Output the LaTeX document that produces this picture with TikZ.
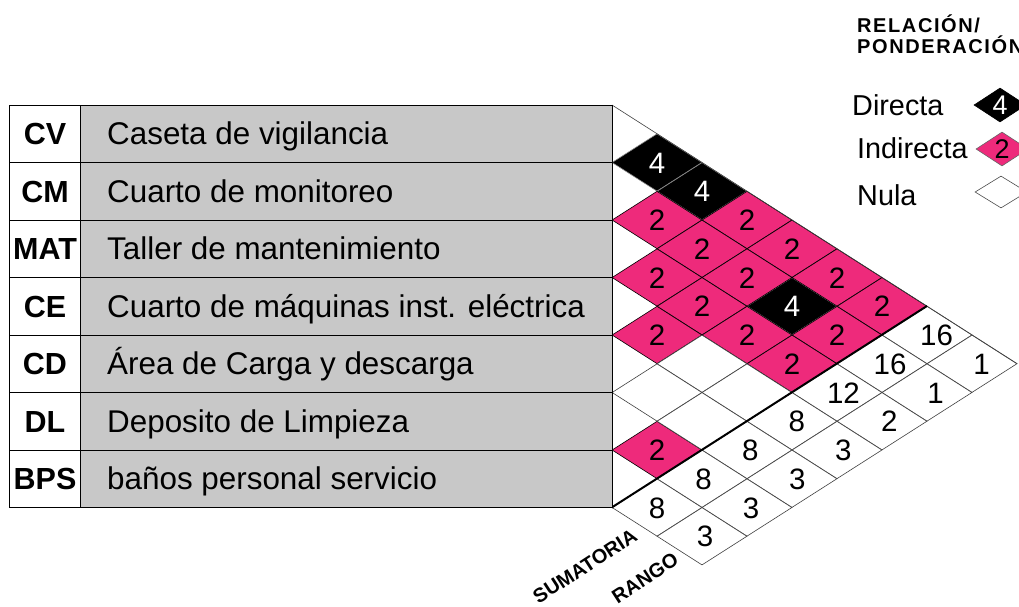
\documentclass[tikz,border=0pt]{standalone}
\usepackage{fontspec}
\setmainfont{Liberation Sans}
\usetikzlibrary{shapes.geometric}
\definecolor{tgray}{RGB}{200,200,200}
\definecolor{hpink}{RGB}{238,42,123}
\begin{document}
\begin{tikzpicture}[x=1pt,y=-1pt,
  cell/.style={diamond, minimum width=90pt, minimum height=57.5pt, inner sep=0pt,
    draw=black!75, line width=0.6pt, font=\fontsize{29.5}{29.5}\selectfont,
    text height=21pt, text depth=0pt},
  nula/.style={cell, fill=white},
  ind/.style={cell, fill=hpink, draw=black},
  dir/.style={cell, fill=black, text=white, draw=black!45},
  codebox/.style={rectangle, draw=black, line width=0.8pt, fill=white,
    minimum width=71pt, minimum height=57.5pt, inner sep=0pt},
  descbox/.style={rectangle, draw=black, line width=0.8pt, fill=tgray,
    minimum width=532pt, minimum height=57.5pt, inner sep=0pt},
  codetext/.style={font=\fontsize{30.5}{30.5}\selectfont\bfseries, inner sep=0pt, anchor=base},
  desctext/.style={font=\fontsize{31.4}{31.4}\selectfont, inner sep=0pt, anchor=base west},
  legtext/.style={font=\fontsize{28.8}{28.8}\selectfont, inner sep=0pt, anchor=base west},
  legtitle/.style={font=\fontsize{20}{20}\selectfont\bfseries\addfontfeature{LetterSpace=8},
    inner sep=0pt, anchor=base west},
  legcell/.style={diamond, minimum width=52pt, minimum height=32pt, inner sep=0pt,
    font=\fontsize{27}{27}\selectfont, text height=19pt, text depth=0pt, line width=0.6pt},
  axislabel/.style={font=\fontsize{20}{20}\selectfont\bfseries, inner sep=0pt, rotate=33}
]
\clip (0,0) rectangle (1019,606);
\fill[white] (0,0) rectangle (1019,606);

% relationship matrix cells
\foreach \i/\j/\v in {1/2/4, 1/3/4, 2/6/4}
  \node[dir] (m\i\j) at ({612+45*(\j-\i)}, {105+28.75*(\i+\j-1)}) {\v};
\foreach \i/\j in {1/4, 1/5, 1/6, 1/7, 2/3, 2/4, 2/5, 2/7, 3/4, 3/5, 3/6, 3/7, 4/5, 6/7}
  \node[ind] (m\i\j) at ({612+45*(\j-\i)}, {105+28.75*(\i+\j-1)}) {2};
\foreach \i/\j in {4/6, 4/7, 5/6, 5/7}
  \node[nula] (m\i\j) at ({612+45*(\j-\i)}, {105+28.75*(\i+\j-1)}) {};
% sumatoria column
\foreach \i/\v in {1/16, 2/16, 3/12, 4/8, 5/8, 6/8, 7/8}
  \node[nula] (s\i) at ({612+45*(8-\i)}, {105+28.75*(\i+7)})
    {\makebox[0pt]{\hspace*{\fpeval{(7-\i)*3.2}pt}\v}};
% rango column
\foreach \i/\v in {1/1, 2/1, 3/2, 4/3, 5/3, 6/3, 7/3}
  \node[nula] (r\i) at ({612+45*(9-\i)}, {105+28.75*(\i+8)})
    {\makebox[0pt]{\hspace*{\fpeval{(7-\i)*2.2+6}pt}\v}};

% borders of the triangle
\coordinate (tl) at (612,105);
\draw[black!75, line width=0.6pt] (tl) -- (r1.east);
\draw[black, line width=2pt] (s7.west) -- (s1.north);

% table
\foreach \k/\c/\d in {1/CV/Caseta de vigilancia, 2/CM/Cuarto de monitoreo,
    3/MAT/Taller de mantenimiento, 4/CE/Cuarto de máquinas inst. eléctrica,
    5/CD/Área de Carga y descarga, 6/DL/Deposito de Limpieza,
    7/BPS/baños personal servicio}{
  \node[codebox] (k\k) at (44.5, {105+57.5*(\k-0.5)}) {};
  \node[descbox] (d\k) at (346, {105+57.5*(\k-0.5)}) {};
  \node[codetext] (kt\k) at (45, {105+57.5*(\k-0.5)+11}) {\c};
  \node[desctext] (dt\k) at (107, {105+57.5*(\k-0.5)+11}) {\d};
}

% axis labels
\node[axislabel] (lsum) at (585,566) {SUMATORIA};
\node[axislabel] (lran) at (645,578) {RANGO};

% legend
\node[legtitle] (lg1) at (857,32) {RELACIÓN/};
\node[legtitle] (lg2) at (857,53) {PONDERACIÓN};
\node[legtext] (lt1) at (852,115) {Directa};
\node[legtext] (lt2) at (857,158) {Indirecta};
\node[legtext] (lt3) at (857,205) {Nula};
\node[legcell, fill=black, text=white, draw=black] (lc1) at (1000,105) {4};
\node[legcell, fill=hpink, draw=black!60] (lc2) at (1002,149) {2};
\node[legcell, fill=white, draw=black!70] (lc3) at (1001,192) {};
\end{tikzpicture}
\end{document}
